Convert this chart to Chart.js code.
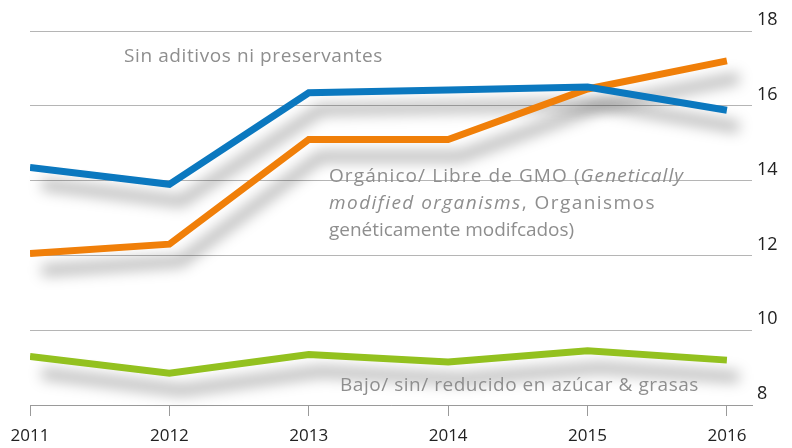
<!DOCTYPE html>
<html>
<head>
<meta charset="utf-8">
<script src="https://cdn.jsdelivr.net/npm/chart.js@4.4.1/dist/chart.umd.min.js"></script>
<style>
  html, body { margin: 0; padding: 0; background: #fff; }
  #wrap { width: 792px; height: 448px; }
</style>
</head>
<body>
<div id="wrap"><canvas id="grafico" width="792" height="448"></canvas></div>
<script>
  const anios = [2011, 2012, 2013, 2014, 2015, 2016];
  const sinAditivos = [14.35, 13.9, 16.35, 16.42, 16.5, 15.88];
  const organico = [12.05, 12.3, 15.1, 15.1, 16.45, 17.2];
  const bajoAzucar = [9.3, 8.85, 9.35, 9.15, 9.45, 9.2];
  const ticksY = [8, 10, 12, 14, 16, 18];

  const FUENTE = '"Open Sans", "Noto Sans", sans-serif';
  const GRIS_TEXTO = '#8e8e8e';

  function serie(valores) {
    return valores.map((v, i) => ({ x: anios[i], y: v }));
  }

  // sombra difusa debajo de las lineas
  const sombras = {
    id: 'sombras',
    beforeDatasetsDraw(chart) {
      const ctx = chart.ctx;
      ctx.save();
      ctx.filter = 'blur(7px)';
      ctx.strokeStyle = 'rgba(0,0,0,0.28)';
      ctx.lineWidth = 11;
      ctx.lineJoin = 'round';
      chart.data.datasets.forEach((ds, i) => {
        const pts = chart.getDatasetMeta(i).data;
        ctx.beginPath();
        pts.forEach((p, j) => {
          if (j === 0) ctx.moveTo(p.x + 12, p.y + 17);
          else ctx.lineTo(p.x + 12, p.y + 17);
        });
        ctx.stroke();
      });
      ctx.restore();
    }
  };

  // texto con partes normales/cursivas, ajustado al ancho del original
  function textoMixto(ctx, partes, x, y, tam, ancho) {
    const fuente = (it) => (it ? 'italic ' : '') + tam + 'px ' + FUENTE;
    ctx.letterSpacing = '0px';
    let natural = 0, letras = 0;
    partes.forEach(([t, it]) => {
      ctx.font = fuente(it);
      natural += ctx.measureText(t).width;
      letras += t.length;
    });
    ctx.letterSpacing = ((ancho - natural) / letras).toFixed(2) + 'px';
    let cx = x;
    partes.forEach(([t, it]) => {
      ctx.font = fuente(it);
      ctx.fillText(t, cx, y);
      cx += ctx.measureText(t).width;
    });
  }

  const etiquetas = {
    id: 'etiquetas',
    afterDraw(chart) {
      const ctx = chart.ctx;
      ctx.save();
      ctx.fillStyle = GRIS_TEXTO;
      ctx.textBaseline = 'alphabetic';
      ctx.textAlign = 'left';
      const tam = 19;
      textoMixto(ctx, [['Sin aditivos ni preservantes', false]], 124, 62, tam, 259);
      textoMixto(ctx, [['Orgánico/ Libre de GMO (', false], ['Genetically', true]], 329, 182, tam, 355);
      textoMixto(ctx, [['modified organisms', true], [', Organismos', false]], 329, 209, tam, 327);
      textoMixto(ctx, [['genéticamente modifcados)', false]], 329, 236, tam, 245);
      textoMixto(ctx, [['Bajo/ sin/ reducido en azúcar & grasas', false]], 340, 391, tam, 359);
      ctx.restore();
    }
  };

  const linea = (datos, color) => ({
    data: serie(datos),
    borderColor: color,
    backgroundColor: color,
    borderWidth: 7,
    borderCapStyle: 'butt',
    borderJoinStyle: 'miter',
    pointRadius: 0,
    tension: 0,
    fill: false
  });

  new Chart(document.getElementById('grafico'), {
    type: 'line',
    data: {
      datasets: [
        linea(sinAditivos, '#0b78bf'),
        linea(organico, '#f07f09'),
        linea(bajoAzucar, '#93c11f')
      ]
    },
    options: {
      responsive: false,
      animation: false,
      layout: { padding: { top: 31, left: 30, right: 0, bottom: 0 } },
      plugins: { legend: { display: false }, tooltip: { enabled: false } },
      scales: {
        x: {
          type: 'linear',
          min: 2011,
          max: 2016.18,
          afterBuildTicks: (s) => { s.ticks = anios.map(v => ({ value: v })); },
          afterFit: (s) => { s.height = 43; },
          grid: { drawOnChartArea: false, drawTicks: true, tickLength: 11, color: '#9a9a9a', lineWidth: 1 },
          border: { display: true, color: '#9a9a9a', width: 1 },
          ticks: {
            callback: (v) => String(v),
            color: '#222',
            font: { family: FUENTE, size: 17 },
            padding: 10,
            maxRotation: 0
          }
        },
        y: {
          position: 'right',
          min: 8,
          max: 18,
          afterBuildTicks: (s) => { s.ticks = ticksY.map(v => ({ value: v })); },
          afterFit: (s) => { s.width = 40; },
          grid: { drawTicks: false, color: '#b5b5b5', lineWidth: 1 },
          border: { display: false },
          ticks: {
            color: '#222',
            font: { family: FUENTE, size: 18 },
            padding: 5,
            labelOffset: -11
          }
        }
      }
    },
    plugins: [sombras, etiquetas]
  });
</script>
</body>
</html>
